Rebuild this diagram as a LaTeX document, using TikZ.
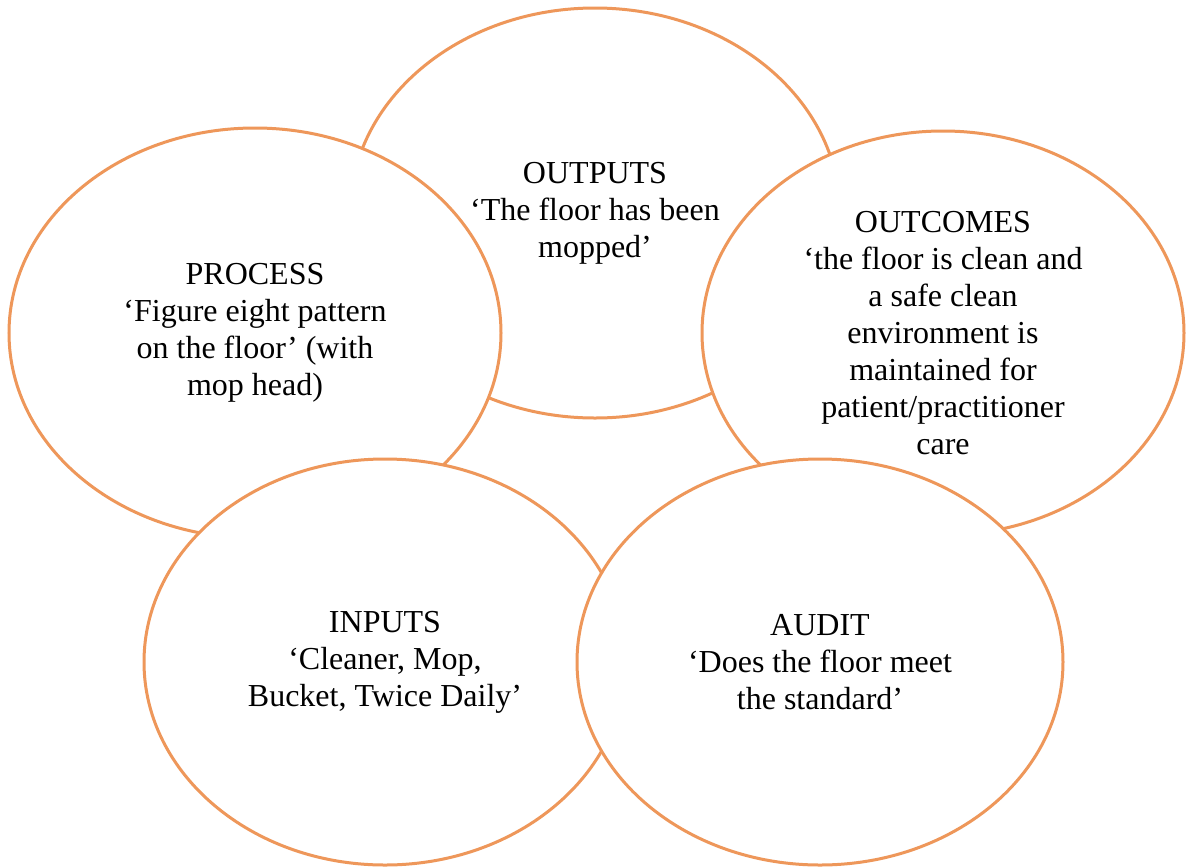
\documentclass[tikz,border=0pt]{standalone}
\usepackage{fontspec}
\setmainfont{Liberation Serif}
\usetikzlibrary{shapes.geometric}
\definecolor{ringorange}{HTML}{EE975A}
\tikzset{
  ring/.style={ellipse, draw=ringorange, line width=3pt, fill=white,
    minimum width=486pt, minimum height=408pt, inner sep=0pt,
    align=center, font=\fontsize{32pt}{37pt}\selectfont, text=black}
}
\begin{document}
\begin{tikzpicture}[x=1pt,y=-1pt]
\useasboundingbox[fill=white] (0,0) rectangle (1187,868);
\node[ring, minimum width=490pt, minimum height=410pt] (outputs) at (595,213) {OUTPUTS\\‘The floor has been\\mopped’};
\node[ring, minimum width=492pt, minimum height=410pt] (process) at (255,333) {PROCESS\\‘Figure eight pattern\\on the floor’ (with\\mop head)};
\node[ring, minimum width=482pt, minimum height=404pt] (outcomes) at (943,333) {OUTCOMES\\‘the floor is clean and\\a safe clean\\environment is\\maintained for\\patient/practitioner\\care};
\node[ring, minimum width=482pt, minimum height=406pt] (inputs) at (385,662) {INPUTS\\‘Cleaner, Mop,\\Bucket, Twice Daily’};
\node[ring, minimum width=486pt, minimum height=406pt] (audit) at (820,662) {AUDIT\\‘Does the floor meet\\the standard’};
\end{tikzpicture}
\end{document}
